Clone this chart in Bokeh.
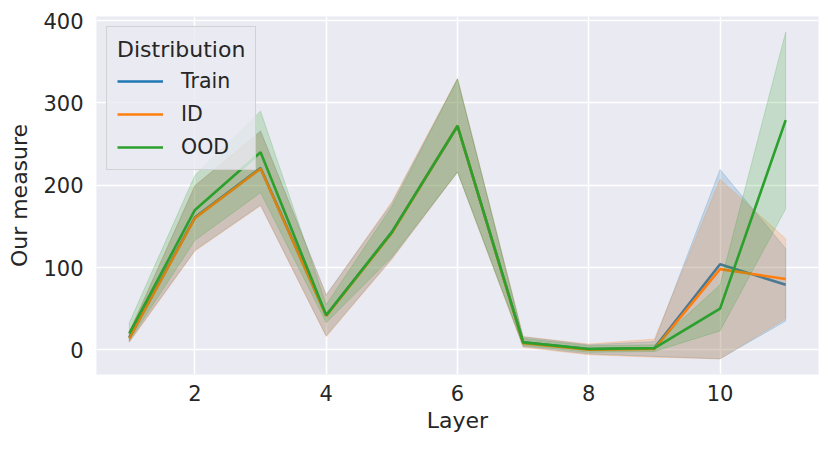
from bokeh.plotting import figure
from bokeh.models import Legend, LegendItem, SingleIntervalTicker, Range1d
from bokeh.embed import file_html
from bokeh.resources import INLINE

layers = [1, 2, 3, 4, 5, 6, 7, 8, 9, 10, 11]

train_mean = [15, 161, 221, 42, 143, 272, 9, 1, 2, 104, 79]
train_lo = [10, 121, 176, 17, 111, 216, 4, -5, -8, -11, 35]
train_hi = [21, 199, 266, 67, 178, 329, 16, 6, 10, 219, 123]

id_mean = [14, 160, 220, 41, 142, 272, 8, 0, 1, 98, 86]
id_lo = [9, 120, 175, 16, 110, 216, 3, -6, -9, -11, 38]
id_hi = [22, 200, 265, 66, 180, 330, 16, 7, 13, 207, 135]

ood_mean = [20, 170, 240, 42, 143, 272, 9, 1, 2, 50, 279]
ood_lo = [11, 133, 191, 33, 113, 216, 5, -3, -2, 23, 171]
ood_hi = [33, 212, 290, 55, 174, 329, 14, 5, 6, 79, 386]

names = ["Train", "ID", "OOD"]
colors = ["#1f77b4", "#ff7f0e", "#2ca02c"]
series = [(train_mean, train_lo, train_hi), (id_mean, id_lo, id_hi), (ood_mean, ood_lo, ood_hi)]

TXT = "#262626"
FONT = "DejaVu Sans"

p = figure(width=831, height=449, output_backend="svg", toolbar_location=None,
           x_range=Range1d(0.5, 11.5), y_range=Range1d(-30, 405),
           min_border_left=96, min_border_right=13, min_border_top=16, min_border_bottom=75)
p.background_fill_color = "#EAEAF2"
p.border_fill_color = "white"
p.outline_line_color = None

for ax in (p.xaxis[0], p.yaxis[0]):
    ax.axis_line_color = None
    ax.major_tick_line_color = None
    ax.minor_tick_line_color = None
    ax.major_tick_out = 0
    ax.major_tick_in = 0
    ax.minor_tick_out = 0
    ax.major_label_text_font = FONT
    ax.major_label_text_font_size = "21px"
    ax.major_label_text_color = TXT
    ax.axis_label_text_font = FONT
    ax.axis_label_text_font_size = "22px"
    ax.axis_label_text_font_style = "normal"
    ax.axis_label_text_color = TXT

p.xaxis.ticker = SingleIntervalTicker(interval=2)
p.yaxis.ticker = SingleIntervalTicker(interval=100)
p.xaxis.axis_label = "Layer"
p.yaxis.axis_label = "Our measure"
p.xaxis.major_label_standoff = 10
p.yaxis.major_label_standoff = 13
p.xaxis.axis_label_standoff = 4
p.yaxis.axis_label_standoff = 8

p.grid.grid_line_color = "white"
p.grid.grid_line_width = 1.5
p.xgrid.ticker = SingleIntervalTicker(interval=2)
p.ygrid.ticker = SingleIntervalTicker(interval=100)

items = []
for name, col, (m, lo, hi) in zip(names, colors, series):
    ln = p.line(layers, m, line_color=col, line_width=2.6)
    px = layers + layers[::-1]
    py = hi + lo[::-1]
    p.patch(px, py, fill_color=col, fill_alpha=0.2, line_color=col, line_alpha=0.2, line_width=1)
    items.append(LegendItem(label=name, renderers=[ln]))

leg = Legend(items=items, location="top_left", margin=10)
leg.title = "Distribution"
leg.title_text_font = FONT
leg.title_text_font_size = "22px"
leg.title_text_font_style = "normal"
leg.title_text_color = TXT
leg.title_standoff = 7
leg.label_text_font = FONT
leg.label_text_font_size = "20.5px"
leg.label_text_color = TXT
leg.label_standoff = 18
leg.glyph_width = 46
leg.glyph_height = 24
leg.label_height = 24
leg.spacing = 9
leg.padding = 10
leg.background_fill_color = "#EAEAF2"
leg.background_fill_alpha = 0.8
leg.border_line_color = "#cccccc"
leg.border_line_alpha = 0.8
leg.border_line_width = 1
p.add_layout(leg)

open("out.html", "w").write(file_html(p, INLINE))
